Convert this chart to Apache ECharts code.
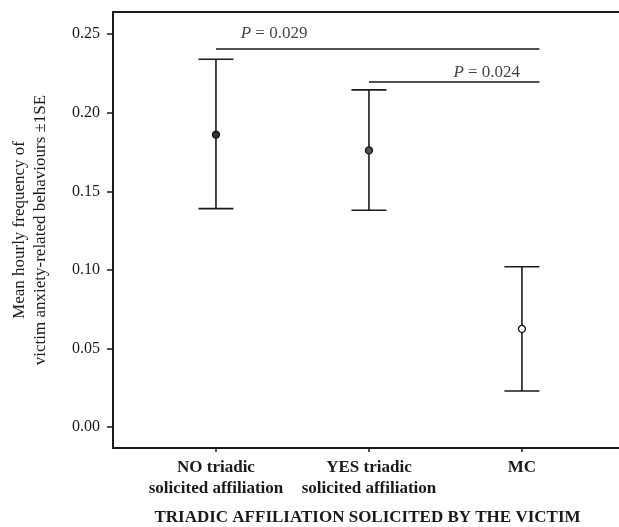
<!DOCTYPE html>
<html>
<head>
<meta charset="utf-8">
<script src="https://cdn.jsdelivr.net/npm/echarts@6/dist/echarts.min.js"></script>
<style>
html,body{margin:0;padding:0;background:#fff;}
#chart{width:619px;height:527px;}
</style>
</head>
<body>
<div id="chart"></div>
<script>
// ---- data ----
var categories = ['NO triadic\nsolicited affiliation', 'YES triadic\nsolicited affiliation', 'MC'];
var means = [0.186, 0.176, 0.0625];
var upper = [0.234, 0.2145, 0.102];
var lower = [0.139, 0.138, 0.023];
var pointFills = ['#333333', '#555555', '#ffffff'];
var yTicks = [0.00, 0.05, 0.10, 0.15, 0.20, 0.25];
// significance brackets: [fromCategoryIndex, toCategoryIndex, y]
var sigFrom = [0, 1];
var sigTo = [2, 2];
var sigY = [0.2405, 0.2195];
var sigText = ['0.029', '0.024'];
var sigLabelX = [1.38, 2.77];
var sigLabelY = [0.2506, 0.2256];

var FONT = "'Liberation Serif', 'Times New Roman', serif";
var CAP = 17.5;

var chart = echarts.init(document.getElementById('chart'), null, {renderer: 'canvas'});

var errData = categories.map(function (c, i) { return [i + 1, lower[i], upper[i]]; });
var pointData = categories.map(function (c, i) {
  return {value: [i + 1, means[i]], itemStyle: {color: pointFills[i]}};
});

var series = [];
series.push({
  type: 'custom',
  data: errData,
  renderItem: function (params, api) {
    var x = api.value(0);
    var lo = api.coord([x, api.value(1)]);
    var hi = api.coord([x, api.value(2)]);
    var st = {stroke: '#1a1a1a', lineWidth: 1.6};
    return {
      type: 'group',
      children: [
        {type: 'line', shape: {x1: lo[0], y1: lo[1], x2: hi[0], y2: hi[1]}, style: st},
        {type: 'line', shape: {x1: hi[0] - CAP, y1: hi[1], x2: hi[0] + CAP, y2: hi[1]}, style: st},
        {type: 'line', shape: {x1: lo[0] - CAP, y1: lo[1], x2: lo[0] + CAP, y2: lo[1]}, style: st}
      ]
    };
  },
  z: 2,
  silent: true
});
series.push({
  type: 'scatter',
  data: pointData,
  symbol: 'circle',
  symbolSize: 7,
  itemStyle: {borderColor: '#111', borderWidth: 1.3, opacity: 1},
  z: 3,
  silent: true
});
// significance lines
for (var k = 0; k < sigY.length; k++) {
  (function (k) {
    series.push({
      type: 'custom',
      data: [[sigFrom[k] + 1, sigTo[k] + 1, sigY[k]]],
      renderItem: function (params, api) {
        var a = api.coord([api.value(0), api.value(2)]);
        var b = api.coord([api.value(1), api.value(2)]);
        return {type: 'line', shape: {x1: a[0], y1: a[1], x2: b[0] + CAP, y2: b[1]},
          style: {stroke: '#1a1a1a', lineWidth: 1.6}};
      },
      silent: true
    });
    series.push({
      type: 'scatter',
      data: [[sigLabelX[k], sigLabelY[k]]],
      symbolSize: 0,
      silent: true,
      label: {
        show: true, position: 'inside',
        formatter: '{i|P} = ' + sigText[k],
        fontFamily: FONT, fontSize: 17, color: '#111',
        rich: {i: {fontStyle: 'italic', fontFamily: FONT, fontSize: 17, color: '#111'}}
      }
    });
  })(k);
}

chart.setOption({
  animation: false,
  backgroundColor: '#fff',
  grid: {left: 113, right: -3, top: 12, bottom: 79, show: false, containLabel: false, outerBoundsMode: 'none'},
  xAxis: [{
    type: 'value', min: 0.327, max: 3.654,
    splitLine: {show: false},
    axisLine: {show: true, onZero: false, lineStyle: {color: '#1a1a1a', width: 2}},
    axisTick: {show: true, length: 4, customValues: [1, 2, 3], lineStyle: {color: '#1a1a1a', width: 1.5}},
    axisLabel: {
      customValues: [1, 2, 3],
      formatter: function (v) { return categories[Math.round(v) - 1]; },
      fontFamily: FONT, fontWeight: 'bold', fontSize: 17, color: '#1a1a1a', lineHeight: 21, margin: 9
    },
    name: 'TRIADIC AFFILIATION SOLICITED BY THE VICTIM',
    nameLocation: 'middle', nameGap: 61,
    nameTextStyle: {fontFamily: FONT, fontWeight: 'bold', fontSize: 17, color: '#1a1a1a'}
  }, {
    type: 'value', position: 'top', min: 0.327, max: 3.654,
    splitLine: {show: false},
    axisLine: {show: true, onZero: false, lineStyle: {color: '#1a1a1a', width: 2}},
    axisTick: {show: false}, axisLabel: {show: false}
  }],
  yAxis: {
    type: 'value', min: -0.0132, max: 0.264,
    splitLine: {show: false},
    axisLine: {show: true, lineStyle: {color: '#1a1a1a', width: 2}},
    axisTick: {show: true, length: 6, customValues: yTicks, lineStyle: {color: '#1a1a1a', width: 1.5}},
    axisLabel: {
      customValues: yTicks,
      formatter: function (v) { return v.toFixed(2); },
      fontFamily: FONT, fontSize: 16, color: '#1a1a1a', margin: 13
    },
    name: 'Mean hourly frequency of\nvictim anxiety-related behaviours \u00b11SE',
    nameLocation: 'middle', nameGap: 62, nameRotate: 90,
    nameTextStyle: {fontFamily: FONT, fontSize: 17, color: '#1a1a1a', lineHeight: 21}
  },
  series: series
});
</script>
</body>
</html>
